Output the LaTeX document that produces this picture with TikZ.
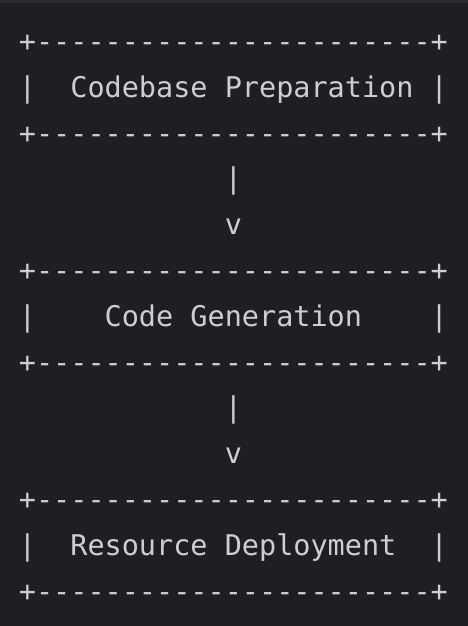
\documentclass[tikz,border=0pt]{standalone}
\usepackage{fontspec}
\newfontfamily\asciifont{DejaVu Sans Mono}
\definecolor{bg}{HTML}{1E1F25}
\definecolor{band}{HTML}{2B2C31}
\definecolor{fg}{HTML}{CDCED4}
\begin{document}
\begin{tikzpicture}[x=1pt,y=-1pt,
  asciiline/.style={anchor=base west, inner sep=0pt, outer sep=0pt, text=fg, font=\fontsize{28.5}{34}\asciifont}]
\fill[bg] (0,0) rectangle (468,626);
\fill[band] (0,0) rectangle (468,3);
\useasboundingbox (0,0) rectangle (468,626);
% box 1
\node[asciiline] (top1) at (18.9,51.5) {+-----------------------+};
\node[asciiline] (mid1) at (18.9,97.3) {|\phantom{xx}Codebase Preparation\phantom{x}|};
\node[asciiline] (bot1) at (18.9,143.1) {+-----------------------+};
% connector 1
\node[asciiline] (bar1) at (224.8,188.9) {|};
\node[asciiline] (arr1) at (224.8,234.7) {v};
% box 2
\node[asciiline] (top2) at (18.9,280.5) {+-----------------------+};
\node[asciiline] (mid2) at (18.9,326.3) {|\phantom{xxxx}Code Generation\phantom{xxxx}|};
\node[asciiline] (bot2) at (18.9,372.1) {+-----------------------+};
% connector 2
\node[asciiline] (bar2) at (224.8,417.9) {|};
\node[asciiline] (arr2) at (224.8,463.7) {v};
% box 3
\node[asciiline] (top3) at (18.9,509.5) {+-----------------------+};
\node[asciiline] (mid3) at (18.9,555.3) {|\phantom{xx}Resource Deployment\phantom{xx}|};
\node[asciiline] (bot3) at (18.9,601.1) {+-----------------------+};
\end{tikzpicture}
\end{document}
